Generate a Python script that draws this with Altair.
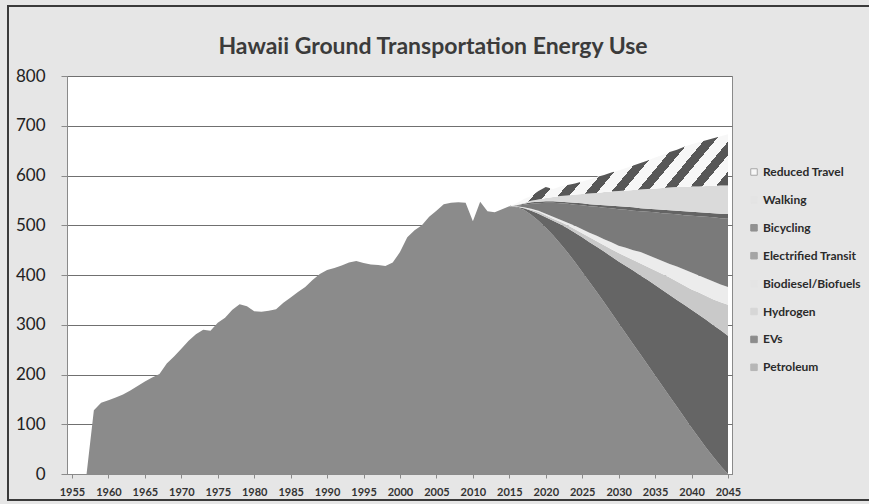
import altair as alt
import pandas as pd

# ---------------- data ----------------
chart_title = "Hawaii Ground Transportation Energy Use"

series_names = ["Petroleum", "EVs", "Hydrogen", "Biodiesel/Biofuels",
                "Electrified Transit", "Bicycling", "Walking", "Reduced Travel"]
area_colors = ["#8b8b8b", "#656565", "#c9c9c9", "#ececec",
               "#7a7a7a", "#646464", "#dadada", "#ffffff"]

legend_names = ["Reduced Travel", "Walking", "Bicycling", "Electrified Transit",
                "Biodiesel/Biofuels", "Hydrogen", "EVs", "Petroleum"]
legend_fills = ["#ffffff", "#e4e4e4", "#6e6e6e", "#8a8a8a",
                "#e4e4e4", "#d0d0d0", "#666666", "#a3a3a3"]
legend_strokes = ["#8c8c8c", "#e4e4e4", "#6e6e6e", "#8a8a8a",
                  "#e4e4e4", "#d0d0d0", "#666666", "#a3a3a3"]

hist_years = list(range(1957, 2015))
hist_petroleum = [0, 128, 143, 148, 154, 160, 168, 177, 186, 194,
                  201, 222, 236, 252, 268, 281, 290, 288, 304, 314,
                  330, 341, 337, 327, 326, 328, 331, 344, 355, 366,
                  376, 390, 402, 410, 414, 419, 425, 428, 424, 421,
                  420, 418, 425, 446, 476, 490, 500, 517, 529, 542,
                  545, 546, 545, 508, 547, 528, 526, 532]

proj_years = list(range(2015, 2046))
petroleum = [538, 536, 531, 521, 509, 495, 480, 463, 445, 426, 406, 386, 366, 345, 324,
             303, 282, 261, 240, 219, 198, 177, 156, 135, 114, 93, 73, 53, 34, 16, 0]
evs = [0, 1, 3, 8, 14, 21, 29, 39, 49, 59, 70, 80, 91, 102, 113,
       124, 136, 148, 159, 171, 182, 193, 204, 215, 226, 237, 247, 257, 265, 273, 278]
hydrogen = [0, 0, 1, 2, 4, 4, 4, 5, 6, 7, 8, 10, 11, 13, 15,
            17, 19, 21, 24, 26, 29, 32, 35, 37, 39, 41, 45, 48, 52, 56, 62]
biodiesel = [0, 1, 1, 2, 2, 3, 4, 4, 5, 7, 8, 9, 11, 12, 14,
             15, 18, 20, 23, 24, 25, 26, 27, 30, 32, 34, 34, 35, 36, 36, 36]
transit = [0, 1, 5, 10, 15, 22, 28, 33, 38, 42, 48, 53, 58, 63, 68,
           73, 76, 79, 82, 87, 92, 96, 101, 105, 109, 114, 119, 124, 129, 133, 137]
bicycling = [0, 1, 2, 3, 3, 3, 3, 3, 3, 4, 4, 4, 4, 5, 5,
             6, 6, 7, 6, 6, 6, 7, 7, 7, 8, 8, 8, 8, 8, 9, 10]
walking = [0, 1, 2, 3, 5, 7, 9, 12, 14, 17, 19, 22, 24, 27, 29,
           31, 33, 35, 38, 40, 42, 44, 46, 48, 49, 51, 52, 54, 55, 57, 57]
reduced = [0, 3, 8, 10, 17, 22, 16, 19, 21, 22, 25, 28, 32, 34, 38,
           41, 45, 49, 53, 57, 62, 66, 71, 75, 81, 85, 89, 92, 96, 99, 103]

x_ticks = list(range(1955, 2046, 5))
y_ticks = list(range(0, 801, 100))

# ---------------- tables ----------------
proj = {
    "Petroleum": petroleum, "EVs": evs, "Hydrogen": hydrogen,
    "Biodiesel/Biofuels": biodiesel, "Electrified Transit": transit,
    "Bicycling": bicycling, "Walking": walking, "Reduced Travel": reduced,
}
rows = [{"year": y, "series": "Petroleum", "value": v}
        for y, v in zip(hist_years, hist_petroleum)]
for name, vals in proj.items():
    rows += [{"year": y, "series": name, "value": v} for y, v in zip(proj_years, vals)]
df = pd.DataFrame(rows)
df["order"] = df["series"].map({n: i for i, n in enumerate(series_names)})

legend_df = pd.DataFrame({"name": legend_names, "fill": legend_fills,
                          "stroke": legend_strokes, "row": list(range(len(legend_names)))})

FONT = "Lato"

x_enc = alt.X("year:Q",
              scale=alt.Scale(domain=[1954.314, 2045.549], nice=False, zero=False),
              axis=alt.Axis(values=x_ticks, format="d", title=None, grid=False,
                            labelFont=FONT, labelFontWeight="bold", labelFontSize=11,
                            labelColor="#333333", tickSize=4, labelPadding=8,
                            domainColor="#8a8a8a", tickColor="#8a8a8a", labelFlush=False))
y_axis = alt.Axis(values=y_ticks, title=None, grid=True, gridColor="#707070",
                  labelFont=FONT, labelFontSize=17, labelColor="#222222",
                  tickSize=6, labelPadding=16, domainColor="#8a8a8a", tickColor="#8a8a8a")
y_scale = alt.Scale(domain=[0, 800], nice=False)

base = alt.Chart(df).mark_area(interpolate="linear").encode(
    x=x_enc,
    y=alt.Y("value:Q", stack="zero", scale=y_scale, axis=y_axis),
    color=alt.Color("series:N", scale=alt.Scale(domain=series_names, range=area_colors),
                    legend=None),
    order=alt.Order("order:Q", sort="ascending"),
)

# diagonal hatch for "Reduced Travel" (striped linear gradient)
period = 0.085
stops = []
s = 0.0
while s < 1.0:
    d = min(s + period * 0.45, 1.0)
    e = min(s + period, 1.0)
    stops += [alt.GradientStop(offset=s, color="#575757"),
              alt.GradientStop(offset=d, color="#575757"),
              alt.GradientStop(offset=d, color="#f7f7f7"),
              alt.GradientStop(offset=e, color="#f7f7f7")]
    s = e
hatch_fill = alt.LinearGradient(gradient="linear", stops=stops,
                                x1=0, y1=0, x2=1.25, y2=0.3425)

hatch = alt.Chart(df).transform_stack(
    stack="value", groupby=["year"], as_=["y0", "y1"],
    sort=[alt.SortField("order", order="ascending")]
).transform_filter(
    alt.datum.series == "Reduced Travel"
).mark_area(interpolate="linear", color=hatch_fill).encode(
    x=x_enc,
    y=alt.Y("y1:Q", scale=y_scale, axis=y_axis),
    y2="y0:Q",
)

frame = alt.Chart(pd.DataFrame({"k": [0]})).mark_rect(
    fillOpacity=0, stroke="#3a3a3a", strokeWidth=2
).encode(x=alt.value(-59), x2=alt.value(813), y=alt.value(-70), y2=alt.value(424))

title_mark = alt.Chart(pd.DataFrame({"t": [chart_title]})).mark_text(
    align="center", baseline="alphabetic", font=FONT, fontSize=23,
    fontWeight="bold", color="#3b3b3b"
).encode(x=alt.value(366), y=alt.value(-22), text="t:N")

leg_base = alt.Chart(legend_df).transform_calculate(ly="96 + datum.row * 27.9")
leg_sym = leg_base.mark_square(size=42, filled=True, strokeWidth=1).encode(
    x=alt.value(687),
    y=alt.Y("ly:Q", scale=None),
    fill=alt.Fill("fill:N", scale=None),
    stroke=alt.Stroke("stroke:N", scale=None),
)
leg_txt = leg_base.mark_text(align="left", baseline="middle", font=FONT,
                             fontWeight="bold", fontSize=12, color="#2b2b2b").encode(
    x=alt.value(696),
    y=alt.Y("ly:Q", scale=None),
    text="name:N",
)

chart = alt.layer(frame, base, hatch, title_mark, leg_sym, leg_txt).properties(
    width=665, height=398,
    padding={"left": 67, "top": 76, "right": 137, "bottom": 30},
    autosize=alt.AutoSizeParams(type="none"),
    background="#e6e6e6",
).configure_view(fill="#ffffff", stroke="#8a8a8a")

chart.save("out.html", embed_options={"renderer": "svg", "actions": False})
